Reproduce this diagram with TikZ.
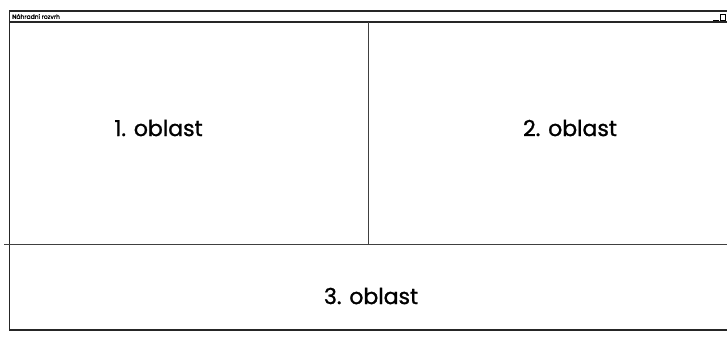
\documentclass[tikz,border=0pt]{standalone}
\usepackage{fontspec}
\setmainfont{Poppins}
\newfontfamily\labelfont{Poppins}[FakeBold=1.2,AutoFakeBold=1.2]
\begin{document}
\begin{tikzpicture}[x=0.75pt,y=-0.75pt,
  frame/.style={draw=black!85,line width=1.2pt},
  divider/.style={draw=black!75,line width=1pt},
  area/.style={font=\labelfont\fontsize{16.5}{18}\selectfont,text=black},
  titletext/.style={font=\labelfont\fontsize{4.5}{5}\selectfont,text=black,anchor=west,inner sep=0pt}]
  \useasboundingbox (0,0) rectangle (727,336);
  % window frame
  \coordinate (tl) at (9.5,11);
  \coordinate (tr) at (727,11);
  \coordinate (bl) at (9.5,330);
  \coordinate (br) at (727,330);
  \draw[frame] (tr) -- (tl) -- (bl) -- (br);
  % title bar
  \coordinate (tbl) at (9.5,22);
  \coordinate (tbr) at (727,22);
  \draw[frame] (tbl) -- (tbr);
  \node[titletext] (title) at (12,16.5) {Náhradní rozvrh};
  % window buttons
  \draw[black,line width=1.1pt] (713,20.3) -- (718.5,20.3);
  \draw[black,line width=1pt] (720.5,14.8) rectangle (725.5,20.5);
  % split lines
  \coordinate (vt) at (368.5,22);
  \coordinate (vb) at (368.5,244.5);
  \coordinate (hl) at (4,244.5);
  \coordinate (hr) at (727,244.5);
  \draw[divider] (vt) -- (vb);
  \draw[divider] (hl) -- (hr);
  % region labels
  \node[area] (a1) at (158.5,128) {1. oblast};
  \node[area] (a2) at (570,128) {2. oblast};
  \node[area] (a3) at (371,296) {3. oblast};
\end{tikzpicture}
\end{document}
